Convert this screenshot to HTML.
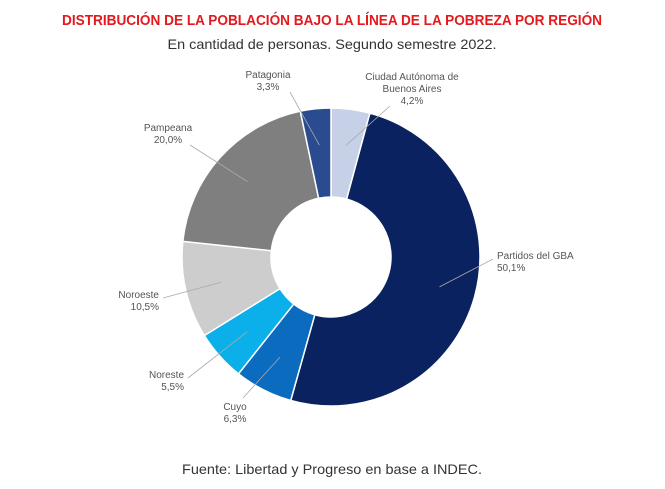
<!DOCTYPE html>
<html><head><meta charset="utf-8"><style>
body{margin:0;width:665px;height:489px;background:#fff;overflow:hidden;font-family:"Liberation Sans",sans-serif}
svg{display:block}
</style></head><body>
<svg id="chart" width="665" height="489">
<text x="332" y="25" text-anchor="middle" font-size="14.5" font-weight="bold" fill="#e3191d" textLength="540" lengthAdjust="spacingAndGlyphs">DISTRIBUCIÓN DE LA POBLACIÓN BAJO LA LÍNEA DE LA POBREZA POR REGIÓN</text>
<text x="332" y="49" text-anchor="middle" font-size="14" fill="#333" textLength="329" lengthAdjust="spacingAndGlyphs">En cantidad de personas. Segundo semestre 2022.</text>
<g id="slices"></g>
<g id="labels" font-size="10" fill="#555"></g>
<text x="332" y="474" text-anchor="middle" font-size="14" fill="#333" textLength="300" lengthAdjust="spacingAndGlyphs">Fuente: Libertad y Progreso en base a INDEC.</text>
</svg>
<script>
const categories=["Ciudad Autónoma de Buenos Aires","Partidos del GBA","Cuyo","Noreste","Noroeste","Pampeana","Patagonia"];
const values=[4.2,50.1,6.3,5.5,10.5,20.0,3.3];
const valueLabels=["4,2%","50,1%","6,3%","5,5%","10,5%","20,0%","3,3%"];
const colors=["#c6d0e7","#0b2260","#0b6bbf","#0bb0ea","#cdcdcd","#7f7f7f","#2b4b90"];
const labelLines=[["Ciudad Autónoma de","Buenos Aires"],["Partidos del GBA"],["Cuyo"],["Noreste"],["Noroeste"],["Pampeana"],["Patagonia"]];
const labelPos=[[412,80,"middle"],[497,259,"start"],[235,410,"middle"],[184,378,"end"],[159,298,"end"],[168,131,"middle"],[268,78,"middle"]];
const NS="http://www.w3.org/2000/svg";
const cx=331,cy=257,R=149,r=60;
const total=values.reduce((a,b)=>a+b,0);
const sg=document.getElementById('slices'),lg=document.getElementById('labels');
function pt(a,rad){return [cx+rad*Math.sin(a),cy-rad*Math.cos(a)];}
let acc=0;
values.forEach((v,i)=>{
 const a0=acc/total*2*Math.PI;acc+=v;const a1=acc/total*2*Math.PI;
 const big=(a1-a0)>Math.PI?1:0;
 const p1=pt(a0,R),p2=pt(a1,R),p3=pt(a1,r),p4=pt(a0,r);
 const p=document.createElementNS(NS,'path');
 p.setAttribute('d',`M${p1}A${R},${R} 0 ${big} 1 ${p2}L${p3}A${r},${r} 0 ${big} 0 ${p4}Z`);
 p.setAttribute('fill',colors[i]);p.setAttribute('stroke','#fff');p.setAttribute('stroke-width','1.5');
 
 
 sg.appendChild(p);
 const am=(a0+a1)/2,pm=pt(am,(R+r)/2+8);
 const lp=labelPos[i];
 const n=labelLines[i].length;
 let ex,ey;
 if(lp[2]==="start"){ex=lp[0]-4;ey=lp[1];}
 else if(lp[2]==="end"){ex=lp[0]+4;ey=lp[1];}
 else if(lp[1]<cy){ex=lp[0]+(pm[0]>lp[0]?22:-22);ey=lp[1]+n*12+2;}
 else {ex=lp[0]+8;ey=lp[1]-12;}
 const ln=document.createElementNS(NS,'line');
 ln.setAttribute('x1',pm[0]);ln.setAttribute('y1',pm[1]);
 ln.setAttribute('x2',ex);ln.setAttribute('y2',ey);
 ln.setAttribute('stroke','#aaa');ln.setAttribute('stroke-width','0.8');
 
 
 lg.appendChild(ln);
 const t=document.createElementNS(NS,'text');
 t.setAttribute('text-anchor',lp[2]);
 
 
 labelLines[i].concat([valueLabels[i]]).forEach((s,k)=>{
  const ts=document.createElementNS(NS,'tspan');
  ts.setAttribute('x',lp[0]);ts.setAttribute('y',lp[1]+k*12);ts.textContent=s;t.appendChild(ts);
 });
 lg.appendChild(t);
});
</script>
</body></html>
